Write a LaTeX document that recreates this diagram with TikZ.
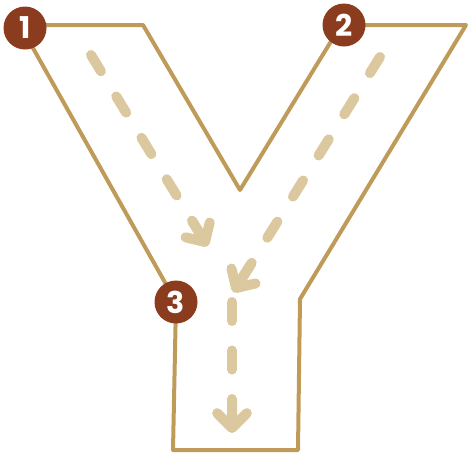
\documentclass[tikz,border=0pt]{standalone}
\usepackage{fontspec}
\setmainfont{Poppins}
\usetikzlibrary{calc}
\definecolor{outlinegold}{RGB}{191,155,90}
\definecolor{dashtan}{RGB}{220,200,158}
\definecolor{badgebrown}{RGB}{139,60,30}
\tikzset{
  ystroke/.style={draw=outlinegold, line width=4pt, line join=round, line cap=round},
  dashline/.style={draw=dashtan, line width=10pt, line cap=round, dash pattern=on 19pt off 29.5pt},
  headline/.style={draw=dashtan, line width=10pt, line cap=round, line join=round},
  badge/.style={circle, fill=badgebrown, minimum size=43pt, inner sep=0pt, text=white,
    font=\fontsize{30}{30}\selectfont\bfseries}
}
\begin{document}
\begin{tikzpicture}[x=1pt,y=-1pt]
\useasboundingbox (0,0) rectangle (470,459);
% outline corners
\coordinate (p1) at (20,25);
\coordinate (p2) at (143,25);
\coordinate (p3) at (240,190);
\coordinate (p4) at (341,25);
\coordinate (p5) at (466,25);
\coordinate (p6) at (300,299);
\coordinate (p7) at (298,450);
\coordinate (p8) at (173,450);
\coordinate (p9) at (176,302);
\draw[ystroke] (p1) -- (p2) -- (p3) -- (p4) -- (p5) -- (p6) -- (p7) -- (p8) -- (p9) -- cycle;
% arrows
\coordinate (a1s) at (91,55);
\coordinate (a1t) at (205,242);
\coordinate (a2s) at (380,57);
\coordinate (a2t) at (236,288);
\coordinate (a3s) at (232,302);
\coordinate (a3t) at (232,428);
\draw[dashline] (a1s) -- (a1t);
\draw[dashline] (a2s) -- (a2t);
\draw[dashline] (a3s) -- (a3t);
\draw[headline] ($(a1t)!20pt!45:(a1s)$) -- (a1t) -- ($(a1t)!20pt!-45:(a1s)$) (a1t) -- ($(a1t)!24pt!(a1s)$);
\draw[headline] ($(a2t)!20pt!45:(a2s)$) -- (a2t) -- ($(a2t)!20pt!-45:(a2s)$) (a2t) -- ($(a2t)!26pt!(a2s)$);
\draw[headline] ($(a3t)!21pt!45:(a3s)$) -- (a3t) -- ($(a3t)!21pt!-45:(a3s)$) (a3t) -- ($(a3t)!28pt!(a3s)$);
% badges
\node[badge] (c1) at (25,28) {1};
\node[badge] (c2) at (344,25) {2};
\node[badge] (c3) at (176,302) {3};
\end{tikzpicture}
\end{document}
